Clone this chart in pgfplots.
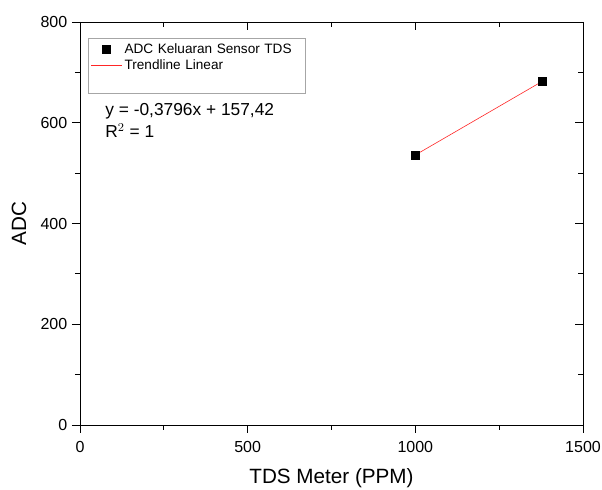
\documentclass[border=0pt]{standalone}
\usepackage{pgfplots}
\pgfplotsset{compat=1.18}
\usepackage{fontspec}
\setmainfont{Liberation Sans}
\begin{document}
\begin{tikzpicture}
\begin{axis}[
	name=ax,
	scale only axis,
	width=377.25pt, height=302.25pt,
	xmin=0, xmax=1500,
	ymin=0, ymax=800,
	xtick={0,500,1000,1500},
	ytick={0,200,400,600,800},
	minor xtick={250,750,1250},
	minor ytick={100,300,500,700},
	tick align=outside,
	xtick pos=lower, ytick pos=left,
	major tick length=6pt, minor tick length=3.75pt,
	tick style={black, line width=0.6pt},
	axis line style={line width=0.6pt},
	/pgf/number format/assume math mode=true,
	/pgf/number format/1000 sep={},
	ticklabel style={font=\fontsize{12}{14}\selectfont},
	xticklabel style={yshift=-2.5pt},
	xlabel={TDS Meter (PPM)},
	ylabel={ADC},
	every axis x label/.style={at={(axis description cs:0.5,-0.1456)}, anchor=base, inner sep=0pt,
		font=\fontsize{15.5}{18}\selectfont},
	every axis y label/.style={at={(axis description cs:-0.121,0.5)}, anchor=center, rotate=90, inner sep=0pt,
		font=\fontsize{15.5}{18}\selectfont},
	legend cell align=left,
	legend image code/.code={\draw[mark repeat=2, mark phase=2, #1] plot coordinates {(0cm,0cm) (0.4cm,0cm) (0.8cm,0cm)};},
	legend style={at={(axis description cs:0.016,0.96)}, anchor=north west,
		font=\fontsize{10.2}{12}\selectfont, draw=gray!70, row sep=-1.2pt,
		text width=131.5pt, inner sep=2pt},
]
\addplot[only marks, mark=square*, mark size=3pt, black] coordinates {
	(1000,536)
	(1378,682)
};
\addlegendentry{ADC Keluaran Sensor TDS}
\addplot[red!85, line width=0.45pt] coordinates {
	(1000,536)
	(1378,682)
};
\addlegendentry{Trendline Linear}
\addlegendimage{empty legend}
\addlegendentry{\strut}
\node[anchor=north west, align=left, font=\fontsize{13}{16}\selectfont, inner sep=0pt]
	at (axis description cs:0.05,0.798) {y = -0,3796x + 157,42\\R$^2$ = 1};
\end{axis}
\begin{axis}[
	scale only axis,
	width=377.25pt, height=302.25pt,
	xmin=0, xmax=1500,
	ymin=0, ymax=800,
	xtick={0,500,1000,1500},
	ytick={0,200,400,600,800},
	minor xtick={250,750,1250},
	minor ytick={100,300,500,700},
	tick align=inside,
	xtick pos=upper, ytick pos=right,
	xticklabels={}, yticklabels={},
	major tick length=6pt, minor tick length=3.75pt,
	tick style={black, line width=0.6pt},
	axis line style={line width=0.6pt},
]
\end{axis}
\pgfresetboundingbox
\path ([shift={(-60pt,-48.75pt)}]ax.south west) rectangle ([shift={(14.25pt,16.5pt)}]ax.north east);
\end{tikzpicture}
\end{document}
